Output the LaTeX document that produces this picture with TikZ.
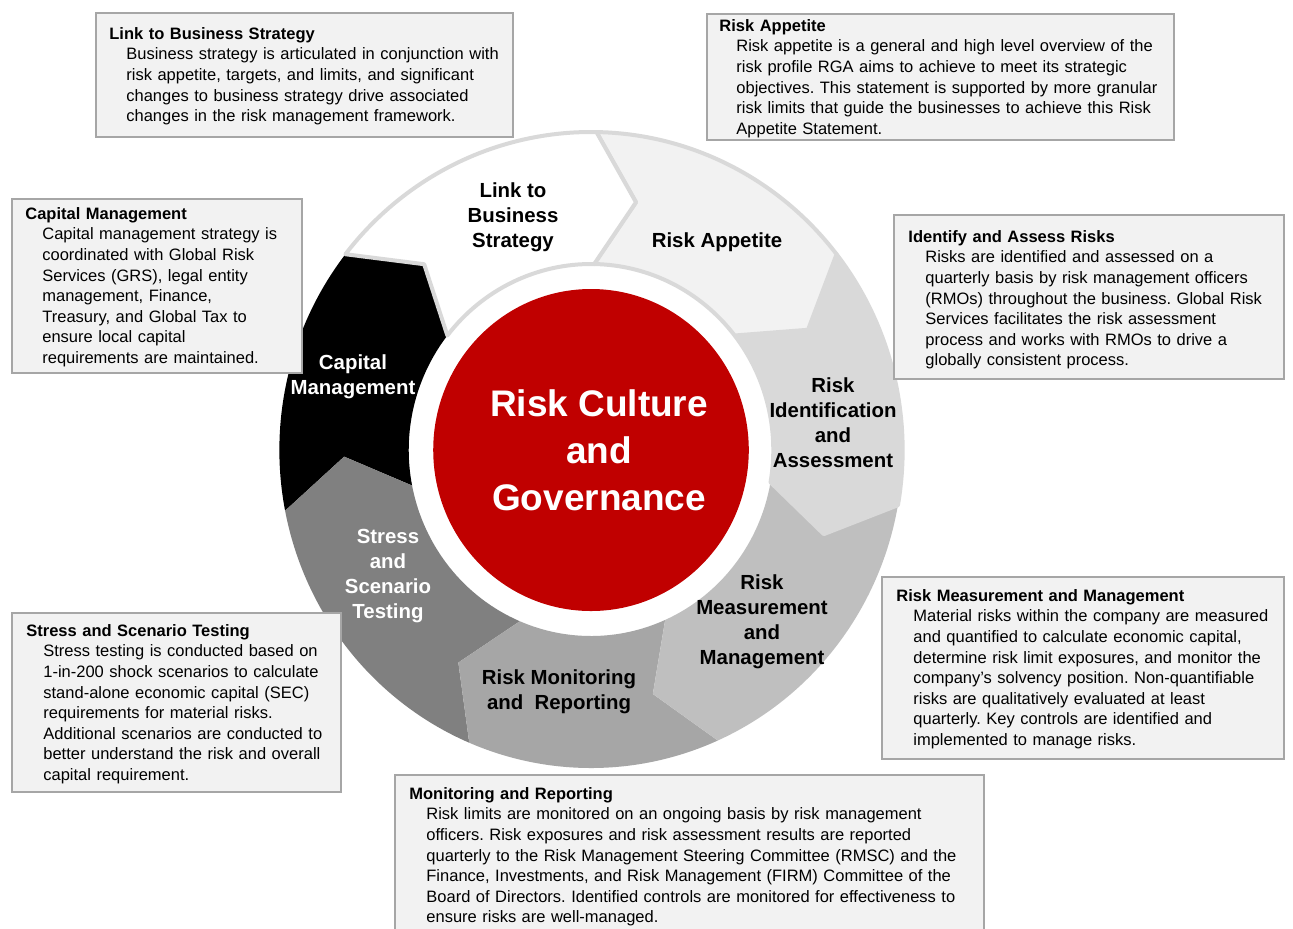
\documentclass[tikz,border=0pt]{standalone}
\usepackage{fontspec}
\setmainfont{Liberation Sans}
\usetikzlibrary{fit}

\definecolor{riskred}{HTML}{C00000}
\definecolor{boxfill}{HTML}{F2F2F2}
\definecolor{boxline}{HTML}{A6A6A6}
\definecolor{ringline}{HTML}{D9D9D9}
\definecolor{shadeA}{HTML}{F2F2F2}
\definecolor{shadeB}{HTML}{D9D9D9}
\definecolor{shadeC}{HTML}{BFBFBF}
\definecolor{shadeD}{HTML}{A6A6A6}
\definecolor{shadeE}{HTML}{808080}

\newcommand{\bodyskip}{\par\setlength{\leftskip}{8.5pt}}
\frenchspacing

\begin{document}
\begin{tikzpicture}[x=0.5pt, y=-0.5pt]
	\tikzset{descbox/.style={draw=boxline, fill=boxfill, line width=0.7pt, inner sep=0pt}};
	\tikzset{desctext/.style={anchor=north west, inner sep=0pt, align=left, text width=290pt, font=\fontsize{8.25}{10.3}\selectfont}};
	\tikzset{seglabel/.style={align=center, inner sep=0pt, font=\fontsize{10.2}{12.5}\selectfont\bfseries}};
	\tikzset{seg/.style={draw=ringline, line width=2pt, line join=round}};

	\fill[white] (0,0) rectangle (1293,928);
	\useasboundingbox (0,0) rectangle (1293,928);

	% ring of chevrons, drawn clockwise from the top
	\begin{scope}[shift={(591,450)}, xscale=0.98, yscale=-1]
		\fill[black] (-169:318) arc[start angle=-169, end angle=-218, radius=318] -- (-227.5:252) -- (-218:186) arc[start angle=-218, end angle=-169, radius=186] -- (-178.5:252) -- cycle;
		\fill[shadeE] (-113:318) arc[start angle=-113, end angle=-169, radius=318] -- (-178.5:252) -- (-169:186) arc[start angle=-169, end angle=-113, radius=186] -- (-122.5:252) -- cycle;
		\fill[shadeD] (-66:318) arc[start angle=-66, end angle=-113, radius=318] -- (-122.5:252) -- (-113:186) arc[start angle=-113, end angle=-66, radius=186] -- (-75.5:252) -- cycle;
		\fill[shadeC] (-10:318) arc[start angle=-10, end angle=-66, radius=318] -- (-75.5:252) -- (-66:186) arc[start angle=-66, end angle=-10, radius=186] -- (-19.5:252) -- cycle;
		\filldraw[seg, fill=shadeB] (38:318) arc[start angle=38, end angle=-10, radius=318] -- (-19.5:252) -- (-10:186) arc[start angle=-10, end angle=38, radius=186] -- (28.5:252) -- cycle;
		\filldraw[seg, fill=shadeA] (89:318) arc[start angle=89, end angle=38, radius=318] -- (28.5:252) -- (38:186) arc[start angle=38, end angle=89, radius=186] -- (79.5:252) -- cycle;
		\filldraw[seg, fill=white] (142:318) arc[start angle=142, end angle=89, radius=318] -- (79.5:252) -- (89:186) arc[start angle=89, end angle=142, radius=186] -- (132.5:252) -- cycle;

		\fill[riskred] (0,0) circle[radius=161];
	\end{scope}

	\node[align=center, inner sep=0pt, text=white, font=\fontsize{18.5}{23.5}\selectfont\bfseries] (core) at (599,450) {Risk Culture\\and\\Governance};

	\node[seglabel] (linklabel) at (513,217) {Link to\\Business\\Strategy};
	\node[seglabel] (appetitelabel) at (717,242) {Risk Appetite};
	\node[seglabel] (identlabel) at (833,423) {Risk\\Identification\\and\\Assessment};
	\node[seglabel] (measurelabel) at (762,622) {Risk\\Measurement\\and\\Management};
	\node[seglabel] (monitorlabel) at (559,692) {Risk Monitoring\\and\ \ Reporting};
	\node[seglabel, white] (stresslabel) at (388,576) {Stress\\and\\Scenario\\Testing};
	\node[seglabel, white] (capitallabel) at (353,377) {Capital\\Management};

	% description boxes
	\node[descbox, fit={(96,13) (513,137)}] (linkbox) {};
	\node[desctext] (linktext) at (109,27) {\textbf{Link to Business Strategy}\bodyskip
		Business strategy is articulated in conjunction with\\
		risk appetite, targets, and limits, and significant\\
		changes to business strategy drive associated\\
		changes in the risk management framework.\par};

	\node[descbox, fit={(707,14) (1174,140)}] (appetitebox) {};
	\node[desctext] (appetitetext) at (719,19) {\textbf{Risk Appetite}\bodyskip
		Risk appetite is a general and high level overview of the\\
		risk profile RGA aims to achieve to meet its strategic\\
		objectives. This statement is supported by more granular\\
		risk limits that guide the businesses to achieve this Risk\\
		Appetite Statement.\par};

	\node[descbox, fit={(12,199) (302,373)}] (capitalbox) {};
	\node[desctext] (capitaltext) at (25,207) {\textbf{Capital Management}\bodyskip
		Capital management strategy is\\
		coordinated with Global Risk\\
		Services (GRS), legal entity\\
		management, Finance,\\
		Treasury, and Global Tax to\\
		ensure local capital\\
		requirements are maintained.\par};

	\node[descbox, fit={(894,215) (1284,379)}] (identbox) {};
	\node[desctext] (identtext) at (908,230) {\textbf{Identify and Assess Risks}\bodyskip
		Risks are identified and assessed on a\\
		quarterly basis by risk management officers\\
		(RMOs) throughout the business. Global Risk\\
		Services facilitates the risk assessment\\
		process and works with RMOs to drive a\\
		globally consistent process.\par};

	\node[descbox, fit={(12,613) (341,792)}] (stressbox) {};
	\node[desctext] (stresstext) at (26,624) {\textbf{Stress and Scenario Testing}\bodyskip
		Stress testing is conducted based on\\
		1-in-200 shock scenarios to calculate\\
		stand-alone economic capital (SEC)\\
		requirements for material risks.\\
		Additional scenarios are conducted to\\
		better understand the risk and overall\\
		capital requirement.\par};

	\node[descbox, fit={(882,577) (1284,759)}] (measurebox) {};
	\node[desctext] (measuretext) at (896,589) {\textbf{Risk Measurement and Management}\bodyskip
		Material risks within the company are measured\\
		and quantified to calculate economic capital,\\
		determine risk limit exposures, and monitor the\\
		company’s solvency position. Non-quantifiable\\
		risks are qualitatively evaluated at least\\
		quarterly. Key controls are identified and\\
		implemented to manage risks.\par};

	\node[descbox, fit={(395,775) (984,940)}] (monitorbox) {};
	\node[desctext] (monitortext) at (409,787) {\textbf{Monitoring and Reporting}\bodyskip
		Risk limits are monitored on an ongoing basis by risk management\\
		officers. Risk exposures and risk assessment results are reported\\
		quarterly to the Risk Management Steering Committee (RMSC) and the\\
		Finance, Investments, and Risk Management (FIRM) Committee of the\\
		Board of Directors. Identified controls are monitored for effectiveness to\\
		ensure risks are well-managed.\par};
\end{tikzpicture}
\end{document}
